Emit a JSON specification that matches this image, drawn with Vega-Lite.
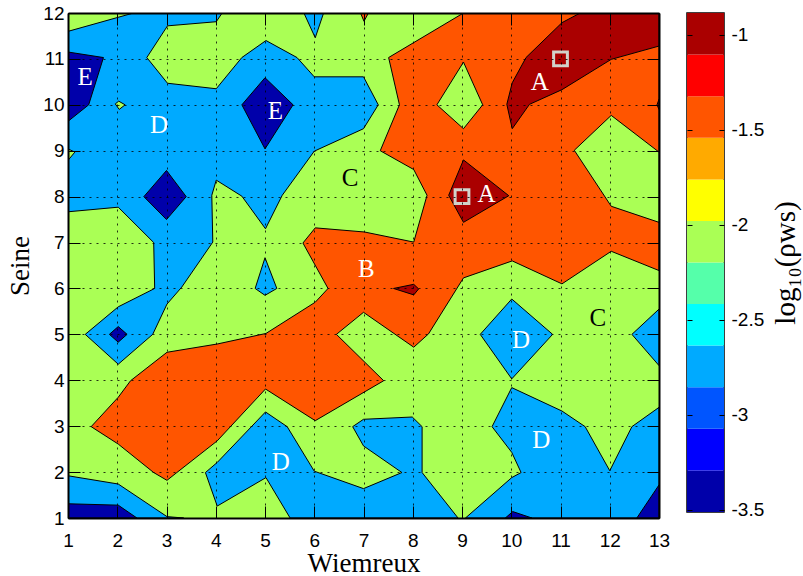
{
  "$schema": "https://vega.github.io/schema/vega-lite/v6.json",
  "background": "white",
  "padding": {"left": 6, "top": 4, "right": 0, "bottom": 0},
  "spacing": 15,
  "config": {
    "view": {"stroke": null},
    "axis": {
      "domainColor": "#000", "domainWidth": 2, "tickColor": "#000", "tickWidth": 1,
      "labelColor": "#000", "labelFont": "Liberation Sans", "labelFontSize": 19,
      "titleColor": "#000", "titleFont": "Liberation Serif", "titleFontSize": 27, "titleFontWeight": "normal",
      "labelFlush": false, "labelOverlap": false
    }
  },
  "datasets": {
    "poly": [
      {"p":"b1","g":"lb","x":1,"y":11.6},{"p":"b1","g":"lb","x":2.33,"y":12},{"p":"b1","g":"lb","x":4.13,"y":12},{"p":"b1","g":"lb","x":4.01,"y":11.81},{"p":"b1","g":"lb","x":3.02,"y":11.72},{"p":"b1","g":"lb","x":2.6,"y":11.03},{"p":"b1","g":"lb","x":3.02,"y":10.47},{"p":"b1","g":"lb","x":4.01,"y":10.35},{"p":"b1","g":"lb","x":4.53,"y":11.03},{"p":"b1","g":"lb","x":5.02,"y":11.4},{"p":"b1","g":"lb","x":5.65,"y":11.03},{"p":"b1","g":"lb","x":6.0,"y":10.61},{"p":"b1","g":"lb","x":7.0,"y":10.61},{"p":"b1","g":"lb","x":7.3,"y":10.0},{"p":"b1","g":"lb","x":7.0,"y":9.48},{"p":"b1","g":"lb","x":6.0,"y":8.99},{"p":"b1","g":"lb","x":5.35,"y":8.03},{"p":"b1","g":"lb","x":5.01,"y":7.3},{"p":"b1","g":"lb","x":4.53,"y":8.01},{"p":"b1","g":"lb","x":4.01,"y":8.36},{"p":"b1","g":"lb","x":3.92,"y":8.03},{"p":"b1","g":"lb","x":3.94,"y":7.01},{"p":"b1","g":"lb","x":3.31,"y":6.03},{"p":"b1","g":"lb","x":3.01,"y":5.66},{"p":"b1","g":"lb","x":2.72,"y":5.0},{"p":"b1","g":"lb","x":2.02,"y":4.35},{"p":"b1","g":"lb","x":1.35,"y":5.0},{"p":"b1","g":"lb","x":2.02,"y":5.6},{"p":"b1","g":"lb","x":2.76,"y":6.0},{"p":"b1","g":"lb","x":2.74,"y":7.0},{"p":"b1","g":"lb","x":2.02,"y":7.77},{"p":"b1","g":"lb","x":1,"y":7.67},
      {"p":"b2","g":"lb","x":5.79,"y":12},{"p":"b2","g":"lb","x":6.02,"y":11.46},{"p":"b2","g":"lb","x":6.19,"y":12},
      {"p":"b3","g":"lb","x":4.8,"y":6.0},{"p":"b3","g":"lb","x":5.0,"y":6.67},{"p":"b3","g":"lb","x":5.24,"y":6.0},{"p":"b3","g":"lb","x":5.0,"y":5.85},
      {"p":"b4","g":"lb","x":1,"y":1},{"p":"b4","g":"lb","x":1,"y":1.92},{"p":"b4","g":"lb","x":2.02,"y":1.74},{"p":"b4","g":"lb","x":3.01,"y":1.03},{"p":"b4","g":"lb","x":3.35,"y":1},
      {"p":"b5","g":"lb","x":3.79,"y":1.99},{"p":"b5","g":"lb","x":4.03,"y":2.21},{"p":"b5","g":"lb","x":5.01,"y":3.31},{"p":"b5","g":"lb","x":5.45,"y":2.99},{"p":"b5","g":"lb","x":6.0,"y":2.02},{"p":"b5","g":"lb","x":7.0,"y":1.64},{"p":"b5","g":"lb","x":7.78,"y":1.99},{"p":"b5","g":"lb","x":7.0,"y":2.57},{"p":"b5","g":"lb","x":6.78,"y":2.99},{"p":"b5","g":"lb","x":7.0,"y":3.15},{"p":"b5","g":"lb","x":7.99,"y":3.2},{"p":"b5","g":"lb","x":8.19,"y":2.99},{"p":"b5","g":"lb","x":8.19,"y":1.99},{"p":"b5","g":"lb","x":8.92,"y":1.0},{"p":"b5","g":"lb","x":5.51,"y":1.0},{"p":"b5","g":"lb","x":5.02,"y":1.88},{"p":"b5","g":"lb","x":4.03,"y":1.26},
      {"p":"b6","g":"lb","x":9.07,"y":1},{"p":"b6","g":"lb","x":10.01,"y":1.88},{"p":"b6","g":"lb","x":10.2,"y":1.99},{"p":"b6","g":"lb","x":10.01,"y":2.43},{"p":"b6","g":"lb","x":9.61,"y":2.99},{"p":"b6","g":"lb","x":10.01,"y":3.84},{"p":"b6","g":"lb","x":11.03,"y":3.33},{"p":"b6","g":"lb","x":11.5,"y":2.99},{"p":"b6","g":"lb","x":12.0,"y":2.03},{"p":"b6","g":"lb","x":12.45,"y":2.99},{"p":"b6","g":"lb","x":13,"y":3.41},{"p":"b6","g":"lb","x":13,"y":1},
      {"p":"b7","g":"lb","x":9.37,"y":5},{"p":"b7","g":"lb","x":10.01,"y":5.77},{"p":"b7","g":"lb","x":10.84,"y":5},{"p":"b7","g":"lb","x":10.01,"y":4.03},
      {"p":"b8","g":"lb","x":13,"y":5.55},{"p":"b8","g":"lb","x":12.45,"y":5},{"p":"b8","g":"lb","x":13,"y":4.32},
      {"p":"d1","g":"db","x":1,"y":11.15},{"p":"d1","g":"db","x":1.72,"y":11.03},{"p":"d1","g":"db","x":1.42,"y":10.0},{"p":"d1","g":"db","x":1,"y":9.64},
      {"p":"d2","g":"db","x":4.53,"y":10},{"p":"d2","g":"db","x":5.0,"y":10.59},{"p":"d2","g":"db","x":5.57,"y":10},{"p":"d2","g":"db","x":5.0,"y":9.04},
      {"p":"d3","g":"db","x":2.54,"y":8},{"p":"d3","g":"db","x":3.0,"y":8.57},{"p":"d3","g":"db","x":3.4,"y":8},{"p":"d3","g":"db","x":3.0,"y":7.5},
      {"p":"d4","g":"db","x":1.84,"y":5},{"p":"d4","g":"db","x":2.02,"y":5.17},{"p":"d4","g":"db","x":2.2,"y":5},{"p":"d4","g":"db","x":2.02,"y":4.83},
      {"p":"d5","g":"db","x":1,"y":1},{"p":"d5","g":"db","x":1,"y":1.31},{"p":"d5","g":"db","x":2.02,"y":1.28},{"p":"d5","g":"db","x":2.4,"y":1},
      {"p":"d6","g":"db","x":12.55,"y":1},{"p":"d6","g":"db","x":13,"y":1.72},{"p":"d6","g":"db","x":13,"y":1},
      {"p":"d7","g":"db","x":9.88,"y":1},{"p":"d7","g":"db","x":10.03,"y":1.14},{"p":"d7","g":"db","x":10.42,"y":1},
      {"p":"g1","g":"gb","x":1.96,"y":10.02},{"p":"g1","g":"gb","x":2.03,"y":10.08},{"p":"g1","g":"gb","x":2.16,"y":10.0},{"p":"g1","g":"gb","x":2.04,"y":9.9},
      {"p":"g2","g":"gb","x":1,"y":9.04},{"p":"g2","g":"gb","x":1.14,"y":8.97},{"p":"g2","g":"gb","x":1,"y":8.79},
      {"p":"o1","g":"o","x":9.03,"y":12},{"p":"o1","g":"o","x":13,"y":12},{"p":"o1","g":"o","x":13,"y":6.39},{"p":"o1","g":"o","x":12.03,"y":6.81},{"p":"o1","g":"o","x":11.03,"y":6.1},{"p":"o1","g":"o","x":10.02,"y":6.6},{"p":"o1","g":"o","x":9.03,"y":6.23},{"p":"o1","g":"o","x":8.32,"y":5.01},{"p":"o1","g":"o","x":8.02,"y":4.72},{"p":"o1","g":"o","x":7.0,"y":5.48},{"p":"o1","g":"o","x":6.45,"y":5.0},{"p":"o1","g":"o","x":7.41,"y":3.99},{"p":"o1","g":"o","x":6.02,"y":3.12},{"p":"o1","g":"o","x":5.01,"y":3.81},{"p":"o1","g":"o","x":4.03,"y":2.68},{"p":"o1","g":"o","x":3.21,"y":1.99},{"p":"o1","g":"o","x":3.01,"y":1.82},{"p":"o1","g":"o","x":2.74,"y":1.99},{"p":"o1","g":"o","x":2.02,"y":2.61},{"p":"o1","g":"o","x":1.47,"y":2.99},{"p":"o1","g":"o","x":2.02,"y":3.63},{"p":"o1","g":"o","x":2.27,"y":3.99},{"p":"o1","g":"o","x":3.01,"y":4.61},{"p":"o1","g":"o","x":4.03,"y":4.79},{"p":"o1","g":"o","x":5.02,"y":5.02},{"p":"o1","g":"o","x":6.02,"y":5.7},{"p":"o1","g":"o","x":6.28,"y":6.0},{"p":"o1","g":"o","x":5.77,"y":6.99},{"p":"o1","g":"o","x":6.02,"y":7.32},{"p":"o1","g":"o","x":7.02,"y":7.23},{"p":"o1","g":"o","x":8.02,"y":7.01},{"p":"o1","g":"o","x":8.29,"y":8.03},{"p":"o1","g":"o","x":8.02,"y":8.59},{"p":"o1","g":"o","x":7.34,"y":9.0},{"p":"o1","g":"o","x":7.73,"y":10.0},{"p":"o1","g":"o","x":7.51,"y":11.03},
      {"p":"o2","g":"o","x":6.94,"y":12},{"p":"o2","g":"o","x":7.01,"y":11.82},{"p":"o2","g":"o","x":7.1,"y":12},
      {"p":"g3","g":"go","x":8.49,"y":10},{"p":"g3","g":"go","x":9.03,"y":10.93},{"p":"g3","g":"go","x":9.42,"y":10},{"p":"g3","g":"go","x":9.03,"y":9.48},
      {"p":"g4","g":"go","x":11.28,"y":9.01},{"p":"g4","g":"go","x":12.03,"y":9.77},{"p":"g4","g":"go","x":13,"y":8.97},{"p":"g4","g":"go","x":13,"y":7.44},{"p":"g4","g":"go","x":12.03,"y":7.79},
      {"p":"r1","g":"r","x":11.4,"y":12},{"p":"r1","g":"r","x":13,"y":12},{"p":"r1","g":"r","x":13,"y":11.28},{"p":"r1","g":"r","x":12.03,"y":10.99},{"p":"r1","g":"r","x":11.03,"y":10.33},{"p":"r1","g":"r","x":10.37,"y":10.01},{"p":"r1","g":"r","x":10.02,"y":9.48},{"p":"r1","g":"r","x":9.91,"y":10.01},{"p":"r1","g":"r","x":10.02,"y":10.48},{"p":"r1","g":"r","x":10.3,"y":11.03},{"p":"r1","g":"r","x":11.03,"y":11.79},
      {"p":"r2","g":"r","x":8.73,"y":8.03},{"p":"r2","g":"r","x":9.03,"y":8.8},{"p":"r2","g":"r","x":9.95,"y":8.02},{"p":"r2","g":"r","x":9.03,"y":7.44},
      {"p":"r3","g":"r","x":7.61,"y":6.0},{"p":"r3","g":"r","x":8.02,"y":6.09},{"p":"r3","g":"r","x":8.12,"y":5.99},{"p":"r3","g":"r","x":8.02,"y":5.86},
      {"p":"r4","g":"r","x":13,"y":10.12},{"p":"r4","g":"r","x":12.96,"y":10.0},{"p":"r4","g":"r","x":13,"y":9.9}
    ],
    "labels": [
      {"t":"E","x":1.35,"y":10.61},{"t":"E","x":5.21,"y":9.86},{"t":"D","x":2.85,"y":9.56},{"t":"C","x":6.73,"y":8.41},
      {"t":"A","x":10.58,"y":10.49},{"t":"A","x":9.5,"y":8.05},{"t":"B","x":7.06,"y":6.43},{"t":"C","x":11.76,"y":5.35},
      {"t":"D","x":10.2,"y":4.88},{"t":"D","x":5.32,"y":2.22},{"t":"D","x":10.61,"y":2.7}
    ],
    "sites": [{"x":11,"y":11},{"x":9,"y":8}],
    "bar": [
      {"k":0,"lo":-3.513,"hi":-3.294},{"k":1,"lo":-3.294,"hi":-3.075},{"k":2,"lo":-3.075,"hi":-2.856},{"k":3,"lo":-2.856,"hi":-2.637},
      {"k":4,"lo":-2.637,"hi":-2.418},{"k":5,"lo":-2.418,"hi":-2.2},{"k":6,"lo":-2.2,"hi":-1.981},{"k":7,"lo":-1.981,"hi":-1.762},
      {"k":8,"lo":-1.762,"hi":-1.543},{"k":9,"lo":-1.543,"hi":-1.324},{"k":10,"lo":-1.324,"hi":-1.105},{"k":11,"lo":-1.105,"hi":-0.886}
    ]
  },
  "hconcat": [
    {
      "width": 591,
      "height": 505,
      "view": {"fill": "#AAFF55", "stroke": null},
      "layer": [
        {
          "encoding": {
            "x": {"field": "x", "type": "quantitative", "scale": {"domain": [1, 13], "nice": false, "zero": false},
              "axis": {"orient": "bottom", "values": [1,2,3,4,5,6,7,8,9,10,11,12,13], "format": "d", "grid": true, "gridColor": "#000", "gridDash": [2, 5], "gridOpacity": 0.8, "gridWidth": 1, "tickSize": -12, "labelPadding": 25, "title": "Wiemreux", "titlePadding": 0, "zindex": 1}},
            "y": {"field": "y", "type": "quantitative", "scale": {"domain": [1, 12], "nice": false, "zero": false},
              "axis": {"orient": "left", "values": [1,2,3,4,5,6,7,8,9,10,11,12], "format": "d", "grid": true, "gridColor": "#000", "gridDash": [2, 5], "gridOpacity": 0.8, "gridWidth": 1, "tickSize": -12, "labelPadding": 16, "title": "Seine", "titlePadding": 8, "zindex": 1}}
          },
          "layer": [
            {"data": {"name": "poly"}, "transform": [{"filter": "datum.g === 'lb'"}],
             "mark": {"type": "line", "interpolate": "linear-closed", "fill": "#00AAFF", "stroke": "#000", "strokeWidth": 1, "clip": true},
             "encoding": {"detail": {"field": "p"}, "order": {"value": null}}},
            {"data": {"name": "poly"}, "transform": [{"filter": "datum.g === 'db'"}],
             "mark": {"type": "line", "interpolate": "linear-closed", "fill": "#0000AA", "stroke": "#000", "strokeWidth": 1, "clip": true},
             "encoding": {"detail": {"field": "p"}, "order": {"value": null}}},
            {"data": {"name": "poly"}, "transform": [{"filter": "datum.g === 'gb'"}],
             "mark": {"type": "line", "interpolate": "linear-closed", "fill": "#AAFF55", "stroke": "#000", "strokeWidth": 1, "clip": true},
             "encoding": {"detail": {"field": "p"}, "order": {"value": null}}},
            {"data": {"name": "poly"}, "transform": [{"filter": "datum.g === 'o'"}],
             "mark": {"type": "line", "interpolate": "linear-closed", "fill": "#FF5500", "stroke": "#000", "strokeWidth": 1, "clip": true},
             "encoding": {"detail": {"field": "p"}, "order": {"value": null}}},
            {"data": {"name": "poly"}, "transform": [{"filter": "datum.g === 'go'"}],
             "mark": {"type": "line", "interpolate": "linear-closed", "fill": "#AAFF55", "stroke": "#000", "strokeWidth": 1, "clip": true},
             "encoding": {"detail": {"field": "p"}, "order": {"value": null}}},
            {"data": {"name": "poly"}, "transform": [{"filter": "datum.g === 'r'"}],
             "mark": {"type": "line", "interpolate": "linear-closed", "fill": "#AA0000", "stroke": "#000", "strokeWidth": 1, "clip": true},
             "encoding": {"detail": {"field": "p"}, "order": {"value": null}}},
            {"data": {"name": "sites"},
             "mark": {"type": "point", "shape": "square", "filled": false, "size": 190, "stroke": "#D2D2CA", "strokeWidth": 3, "opacity": 1}}
          ]
        },
        {
          "data": {"name": "labels"},
          "mark": {"type": "text", "font": "Liberation Serif", "fontSize": 25, "align": "center", "baseline": "middle"},
          "encoding": {
            "x": {"field": "x", "type": "quantitative", "scale": {"domain": [1, 13], "nice": false, "zero": false},
              "axis": {"orient": "top", "values": [1,2,3,4,5,6,7,8,9,10,11,12,13], "labels": false, "grid": false, "tickSize": -12, "title": null, "zindex": 1}},
            "y": {"field": "y", "type": "quantitative", "scale": {"domain": [1, 12], "nice": false, "zero": false},
              "axis": {"orient": "right", "values": [1,2,3,4,5,6,7,8,9,10,11,12], "labels": false, "grid": false, "tickSize": -12, "title": null, "zindex": 1}},
            "text": {"field": "t"},
            "color": {"field": "t", "type": "nominal", "scale": {"domain": ["A","B","C","D","E"], "range": ["#FFFFFF","#FFFFFF","#000000","#FFFFFF","#FFFFFF"]}, "legend": null}
          }
        }
      ],
      "resolve": {"axis": {"x": "independent", "y": "independent"}}
    },
    {
      "width": 37,
      "height": 499,
      "data": {"name": "bar"},
      "view": {"stroke": "#000", "strokeWidth": 1.5},
      "layer": [
        {
          "mark": {"type": "rect"},
          "encoding": {
            "x": {"datum": 0, "type": "quantitative", "scale": {"domain": [0, 1], "nice": false}, "axis": null},
            "x2": {"datum": 1},
            "y": {"field": "lo", "type": "quantitative", "scale": {"domain": [-3.513, -0.886], "nice": false, "zero": false},
              "axis": {"orient": "right", "values": [-3.5, -3, -2.5, -2, -1.5, -1], "labelExpr": "(datum.value < 0 ? '-' : '') + format(abs(datum.value), '~g')", "tickSize": -5, "labelPadding": 12, "domain": false, "grid": false, "zindex": 1,
                "title": "log₁₀(ρws)", "titleAngle": 270, "titleBaseline": "top", "titleFontSize": 29, "titlePadding": 8}},
            "y2": {"field": "hi"},
            "fill": {"field": "k", "type": "ordinal", "scale": {"domain": [0,1,2,3,4,5,6,7,8,9,10,11], "range": ["#0000AA","#0000FF","#0055FF","#00AAFF","#00FFFF","#55FFAA","#AAFF55","#FFFF00","#FFAA00","#FF5500","#FF0000","#AA0000"]}, "legend": null}
          }
        },
        {
          "mark": {"type": "rect", "opacity": 0},
          "encoding": {
            "x": {"datum": 0, "type": "quantitative", "scale": {"domain": [0, 1], "nice": false}, "axis": null},
            "x2": {"datum": 1},
            "y": {"field": "lo", "type": "quantitative", "scale": {"domain": [-3.513, -0.886], "nice": false, "zero": false},
              "axis": {"orient": "left", "values": [-3.5, -3, -2.5, -2, -1.5, -1], "labels": false, "tickSize": -5, "domain": false, "grid": false, "title": null, "zindex": 1}},
            "y2": {"field": "hi"}
          }
        }
      ],
      "resolve": {"axis": {"y": "independent"}}
    }
  ]
}
